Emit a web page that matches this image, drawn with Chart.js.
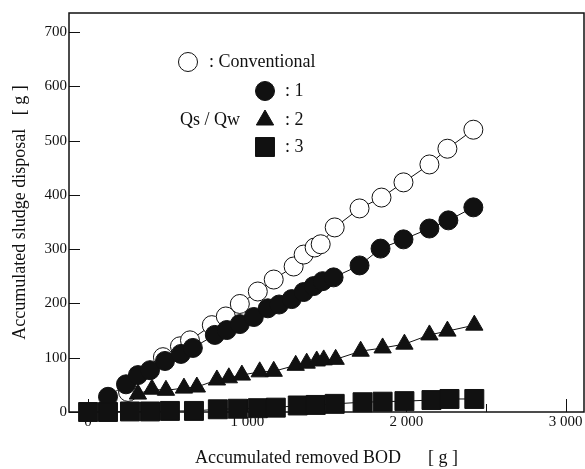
<!DOCTYPE html>
<html>
<head>
<meta charset="utf-8">
<script src="https://cdn.jsdelivr.net/npm/chart.js@4.4.1/dist/chart.umd.min.js"></script>
<style>
  html, body { margin: 0; padding: 0; background: #fff; }
  #wrap { width: 585px; height: 469px; }
</style>
</head>
<body>
<div id="wrap"><canvas id="bodChart" width="585" height="469"></canvas></div>
<script>
// --- data ---
const convX = [251, 470, 577, 640, 777, 865, 953, 1066, 1166, 1291, 1354, 1423, 1461, 1549, 1705, 1843, 1981, 2144, 2257, 2420];
const convY = [37, 101, 121, 132, 160, 176, 199, 222, 244, 268, 290, 303, 309, 340, 375, 395, 423, 456, 485, 520];

const q1X = [125, 238, 313, 389, 483, 583, 658, 796, 871, 953, 1041, 1129, 1200, 1279, 1354, 1417, 1473, 1542, 1705, 1837, 1981, 2144, 2263, 2420];
const q1Y = [28, 51, 68, 77, 94, 107, 118, 142, 151, 162, 175, 191, 198, 208, 221, 232, 241, 248, 270, 301, 318, 338, 353, 377];

const q2X = [313, 401, 489, 602, 683, 809, 884, 966, 1078, 1166, 1304, 1373, 1436, 1480, 1555, 1712, 1850, 1987, 2144, 2257, 2426];
const q2Y = [33, 42, 40, 44, 46, 59, 63, 68, 74, 75, 86, 90, 94, 96, 97, 112, 118, 125, 142, 149, 160];

const q3X = [0, 125, 263, 389, 514, 665, 815, 940, 1066, 1179, 1317, 1430, 1549, 1724, 1850, 1987, 2157, 2270, 2426];
const q3Y = [0, 0, 1, 1, 2, 2, 5, 6, 7, 8, 12, 13, 15, 18, 19, 20, 22, 24, 24];

const xTicks = [0, 1000, 2000, 3000];
const xMinorTicks = [500, 1500, 2500];
const yTicks = [0, 100, 200, 300, 400, 500, 600, 700];

const legendLabels = [': Conventional', ': 1', ': 2', ': 3'];
const groupLabel = 'Qs / Qw';
const xTitle = 'Accumulated removed BOD      [ g ]';
const yTitle = 'Accumulated sludge disposal   [ g ]';

const INK = '#111';
const SERIF = "'Liberation Serif', 'Times New Roman', serif";

const toPoints = (xs, ys) => xs.map((x, i) => ({ x: x, y: ys[i] }));
const fmt = v => String(v).replace(/(\d)(?=(\d{3})+$)/g, '$1 ');

// frame, inward tick marks and the in-plot legend
const framePlugin = {
    id: 'frame',
    beforeDatasetsDraw(chart) {
        const { ctx, chartArea: a, scales: { x, y } } = chart;
        ctx.save();
        ctx.strokeStyle = INK;
        ctx.lineWidth = 1;
        ctx.beginPath();
        xTicks.forEach(v => {
            const px = Math.round(x.getPixelForValue(v)) + 0.5;
            ctx.moveTo(px, a.bottom); ctx.lineTo(px, a.bottom - 13);
        });
        xMinorTicks.forEach(v => {
            const px = Math.round(x.getPixelForValue(v)) + 0.5;
            ctx.moveTo(px, a.bottom); ctx.lineTo(px, a.bottom - 8);
        });
        yTicks.forEach(v => {
            const py = Math.round(y.getPixelForValue(v)) + 0.5;
            ctx.moveTo(a.left, py); ctx.lineTo(a.left + 11, py);
        });
        ctx.stroke();
        ctx.lineWidth = 1.5;
        ctx.strokeRect(a.left, a.top, a.right - a.left, a.bottom - a.top);
        ctx.restore();
    },
    afterDraw(chart) {
        const { ctx } = chart;
        const ds = chart.data.datasets;
        const spots = [[188, 62, 209], [265, 91, 285], [265, 120, 285], [265, 147, 285]];
        ctx.save();
        ctx.font = '18px ' + SERIF;
        ctx.textBaseline = 'middle';
        ctx.fillStyle = INK;
        spots.forEach(([mx, my, tx], i) => {
            const d = ds[i];
            ctx.save();
            ctx.fillStyle = d.pointBackgroundColor;
            ctx.strokeStyle = d.pointBorderColor;
            ctx.lineWidth = 1;
            Chart.helpers.drawPoint(ctx, { pointStyle: d.pointStyle, radius: d.pointRadius, borderWidth: 1, rotation: 0 }, mx, my);
            ctx.restore();
            ctx.fillText(legendLabels[i], tx, my);
        });
        ctx.fillText(groupLabel, 180, 120);
        ctx.restore();
    }
};

const lineCommon = { showLine: true, borderColor: INK, borderWidth: 1, pointBorderColor: INK, pointBorderWidth: 1, clip: false };

new Chart(document.getElementById('bodChart'), {
    type: 'scatter',
    data: {
        datasets: [
            { ...lineCommon, label: 'Conventional', data: toPoints(convX, convY), pointStyle: 'circle', pointRadius: 9.5, pointBackgroundColor: '#fff', order: 4 },
            { ...lineCommon, label: '1', data: toPoints(q1X, q1Y), pointStyle: 'circle', pointRadius: 9.5, pointBackgroundColor: INK, order: 3 },
            { ...lineCommon, label: '2', data: toPoints(q2X, q2Y), pointStyle: 'triangle', pointRadius: 10, pointBackgroundColor: INK, order: 2 },
            { ...lineCommon, label: '3', data: toPoints(q3X, q3Y), pointStyle: 'rect', pointRadius: 13.4, pointBackgroundColor: INK, order: 1 }
        ]
    },
    options: {
        responsive: false,
        animation: false,
        events: [],
        layout: { autoPadding: false, padding: { top: 13, right: 1, left: 0, bottom: 0 } },
        plugins: { legend: { display: false }, tooltip: { enabled: false } },
        scales: {
            x: {
                type: 'linear',
                min: -120, max: 3115,
                afterBuildTicks: s => { s.ticks = xTicks.map(v => ({ value: v })); },
                afterFit: s => { s.height = 57; s.paddingLeft = 0; s.paddingRight = 0; },
                grid: { display: false, drawTicks: false },
                border: { display: false },
                ticks: { autoSkip: false, maxRotation: 0, padding: 1, color: INK, font: { family: SERIF, size: 15 }, callback: v => fmt(v) },
                title: { display: true, text: xTitle, color: INK, font: { family: SERIF, size: 18 }, padding: { top: 0, bottom: 0 } }
            },
            y: {
                type: 'linear',
                min: 0, max: 735,
                afterBuildTicks: s => { s.ticks = yTicks.map(v => ({ value: v })); },
                afterFit: s => { s.width = 69; s.paddingTop = 0; s.paddingBottom = 0; },
                grid: { display: false, drawTicks: false },
                border: { display: false },
                ticks: { padding: 2, color: INK, font: { family: SERIF, size: 15 }, callback: v => fmt(v) },
                title: { display: true, text: yTitle, color: INK, font: { family: SERIF, size: 18 }, padding: { top: 9, bottom: 0 } }
            }
        }
    },
    plugins: [framePlugin]
});
</script>
</body>
</html>
